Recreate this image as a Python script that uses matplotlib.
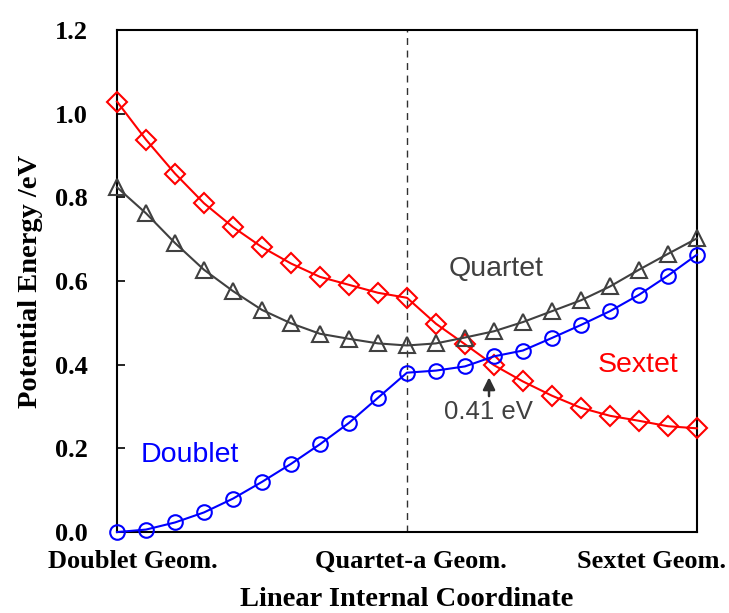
import matplotlib
matplotlib.use("Agg")
import matplotlib.pyplot as plt

coord = list(range(21))
doublet = [0.000, 0.006, 0.023, 0.047, 0.080, 0.120, 0.163, 0.210, 0.261, 0.321, 0.381,
           0.386, 0.396, 0.420, 0.434, 0.464, 0.495, 0.528, 0.567, 0.613, 0.663]
quartet = [0.824, 0.762, 0.691, 0.627, 0.576, 0.531, 0.499, 0.474, 0.462, 0.451, 0.446,
           0.451, 0.465, 0.480, 0.502, 0.528, 0.554, 0.587, 0.627, 0.665, 0.702]
sextet = [1.029, 0.938, 0.857, 0.786, 0.729, 0.681, 0.642, 0.610, 0.591, 0.572, 0.560,
          0.498, 0.449, 0.399, 0.360, 0.326, 0.297, 0.278, 0.266, 0.253, 0.248]
geom_labels = ["Doublet Geom.", "Quartet-a Geom.", "Sextet Geom."]
geom_label_pos = [0.56, 10.14, 18.45]
yticks = [0.0, 0.2, 0.4, 0.6, 0.8, 1.0, 1.2]
crossing_label = "0.41 eV"

fig = plt.figure(figsize=(7.29, 6.13), dpi=100)
ax = fig.add_axes([0.1605, 0.132, 0.7955, 0.819])

serif = ["Liberation Serif", "DejaVu Serif"]
sans = ["Liberation Sans", "DejaVu Sans"]

ax.axvline(10, color="#303030", lw=1.0, ls=(0, (5, 4)), zorder=1)

ax.plot(coord, sextet, color="#FF0000", lw=1.5, marker="D", ms=10, mfc="none",
        mec="#FF0000", mew=1.5, zorder=3, clip_on=False)
ax.plot(coord, quartet, color="#404040", lw=1.5, marker="^", ms=12, mfc="none",
        mec="#404040", mew=1.5, zorder=3, clip_on=False)
ax.plot(coord, doublet, color="#0000FF", lw=1.5, marker="o", ms=10.5, mfc="none",
        mec="#0000FF", mew=1.5, zorder=3, clip_on=False)

ax.set_xlim(0, 20)
ax.set_ylim(0, 1.2)
ax.set_yticks(yticks)
ax.set_yticklabels([f"{v:.1f}" for v in yticks], fontfamily=serif, fontweight="bold", fontsize=19)
ax.set_xticks(geom_label_pos)
ax.set_xticklabels(geom_labels, fontfamily=serif, fontweight="bold", fontsize=19)
ax.tick_params(axis="x", length=0, pad=13)
ax.tick_params(axis="y", direction="in", length=6, width=1.2, pad=21)

for s in ax.spines.values():
    s.set_linewidth(1.5)
    s.set_color("black")

ax.set_ylabel("Potential Energy /eV", fontfamily=serif, fontweight="bold", fontsize=20.5)
ax.yaxis.set_label_coords(-0.128, 0.5)
ax.set_xlabel("Linear Internal Coordinate", fontfamily=serif, fontweight="bold", fontsize=20.5, labelpad=10)

ax.text(13.06, 0.630, "Quartet", color="#404040", fontfamily=sans, fontsize=20.5, ha="center", va="center")
ax.text(17.98, 0.399, "Sextet", color="#FF0000", fontfamily=sans, fontsize=20.5, ha="center", va="center")
ax.text(2.5, 0.185, "Doublet", color="#0000FF", fontfamily=sans, fontsize=20.5, ha="center", va="center")
ax.annotate("", xy=(12.83, 0.370), xytext=(12.83, 0.325),
            arrowprops=dict(arrowstyle="-|>", color="#303030", lw=1.8, mutation_scale=18,
                            shrinkA=0, shrinkB=0))
ax.text(12.8, 0.287, crossing_label, color="#404040", fontfamily=sans, fontsize=18.5, ha="center", va="center")

fig.savefig("out.png", dpi=100)
